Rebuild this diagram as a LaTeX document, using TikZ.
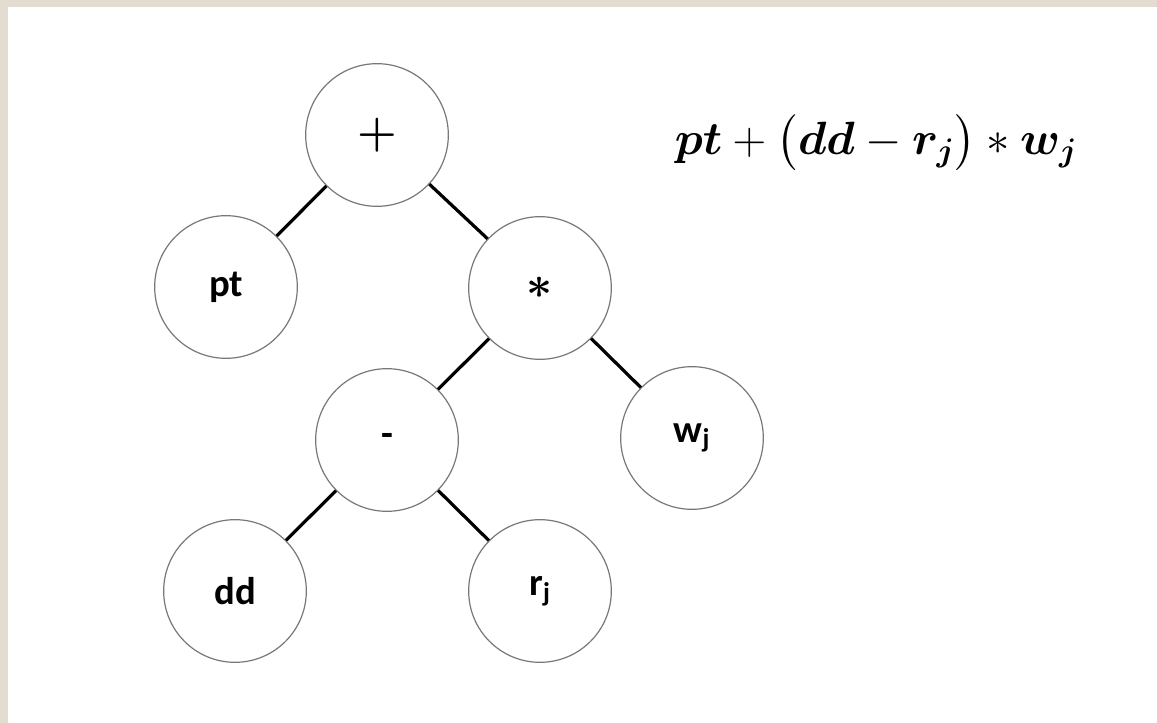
\RequirePackage{fix-cm}
\documentclass[tikz,border=0pt]{standalone}
\usepackage{amsmath,amssymb,bm}
\usepackage{fontspec}
\setsansfont{Carlito}
\usepackage{tikz}
\usetikzlibrary{positioning}
\definecolor{Paper}{RGB}{227,220,209}
\definecolor{Rim}{RGB}{120,120,120}

\tikzset{
  opnode/.style={circle, draw=Rim, line width=0.9pt, minimum size=107pt, inner sep=0pt,
    font=\sffamily\bfseries\fontsize{29}{32}\selectfont},
  branch/.style={line width=2.4pt, black}
}

\begin{document}
\begin{tikzpicture}[x=0.75pt,y=-0.75pt]
    \useasboundingbox (0,0) rectangle (1157,723);
    \fill[Paper] (0,0) rectangle (1157,723);
    \fill[white] (8,7) rectangle (1157,723);
    % expression tree
    \node[opnode] (plus)  at (377,135) {\fontsize{34}{36}\selectfont$\bm{+}$};
    \node[opnode] (pt)    at (226,287) {pt};
    \node[opnode] (times) at (540,288) {\fontsize{34}{36}\selectfont$\bm{\ast}$};
    \node[opnode] (minus) at (387,440) {-};
    \node[opnode] (wj)    at (692,438) {w\textsubscript{j}};
    \node[opnode] (dd)    at (235,591) {dd};
    \node[opnode] (rj)    at (540,591) {r\textsubscript{j}};
    \foreach \p/\c in {plus/pt,plus/times,times/minus,times/wj,minus/dd,minus/rj} {
      \draw[branch] (\p) -- (\c);
    }
    % formula
    \node (formula) at (876,143) {\fontsize{35}{40}\selectfont
      $\bm{pt} + \bigl(\bm{dd} - \bm{r_j}\bigr) \ast \bm{w_j}$};
  \end{tikzpicture}
\end{document}
